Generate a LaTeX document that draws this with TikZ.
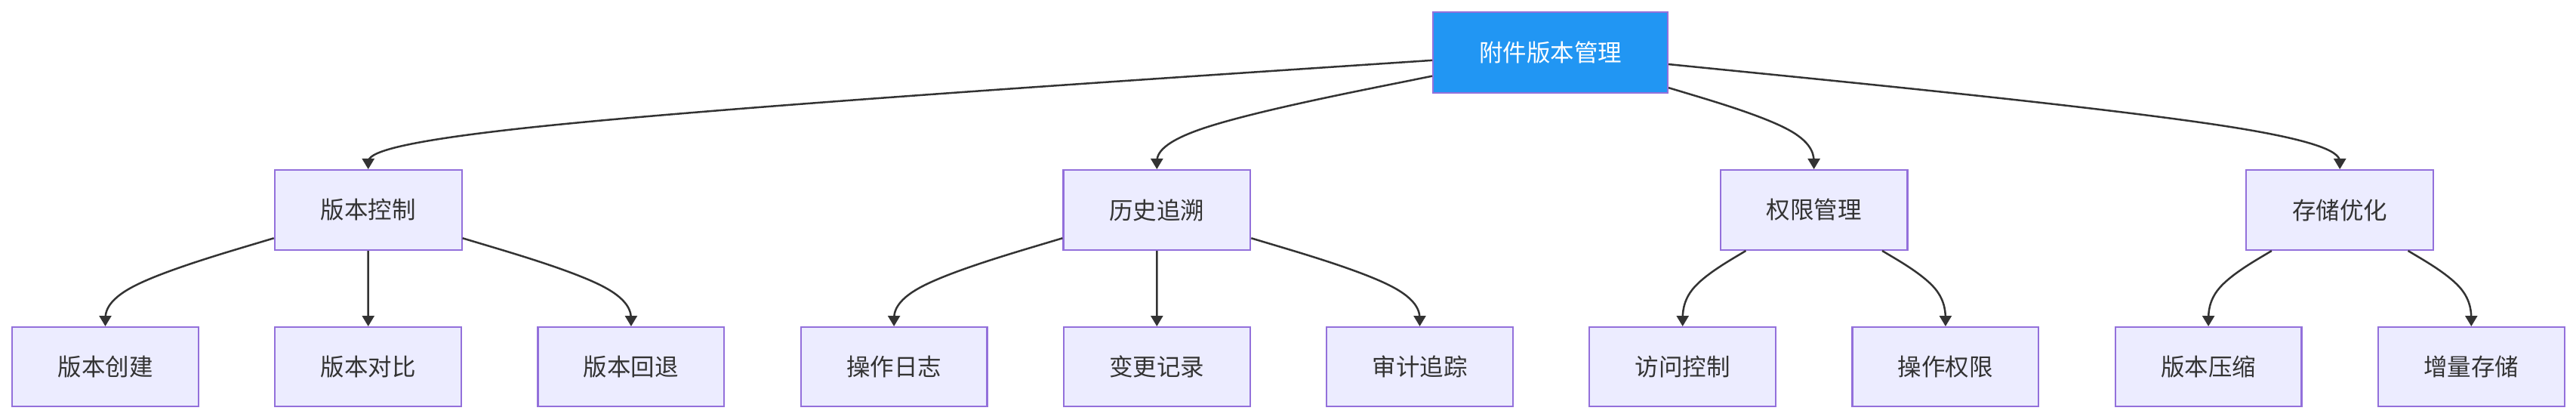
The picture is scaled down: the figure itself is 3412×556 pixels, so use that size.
\documentclass[tikz,border=0pt]{standalone}
\usepackage{fontspec}
\setmainfont{Noto Sans CJK SC}
\usetikzlibrary{arrows.meta,calc}
\definecolor{mmborder}{HTML}{9370DB}
\definecolor{mmfill}{HTML}{ECECFF}
\definecolor{mmroot}{HTML}{2196F3}
\definecolor{mmtext}{HTML}{333333}
\tikzset{
  box/.style={draw=mmborder, line width=2.2pt, fill=mmfill, text=mmtext, inner sep=0pt,
    font=\fontsize{31.5}{36}\selectfont},
  leafbox/.style={box, minimum width=246.8pt, minimum height=104.8pt},
  midbox/.style={box, minimum width=247.8pt, minimum height=105.8pt},
  rootbox/.style={box, fill=mmroot, text=white, minimum width=310.8pt, minimum height=106.8pt},
  link/.style={draw=mmtext, line width=2.5pt, -{Triangle[length=14pt,width=16pt]}}
}
\newcommand\mmlink[3]{%
  \coordinate (mM) at (#2.north |- 0,#3);
  \coordinate (mE) at (#2.north);
  \path (#1) -- coordinate[pos=0] (mS) (mM);
  \coordinate (mC2) at ($(mS)!2/3!(mM)$);
  \coordinate (mD1) at ($(mM)!1/3!(mE)$);
  \draw[link] (#1) -- ($(mS)!1/6!(mM)$) .. controls ($(mS)!1/3!(mM)$) and (mC2) .. ($(mC2)!0.5!(mD1)$) .. controls (mD1) and ($(mM)!2/3!(mE)$) .. ($(mM)!5/6!(mE)$) -- (#2);
}
\begin{document}
\begin{tikzpicture}[x=1pt,y=-1pt]
\fill[white] (0,0) rectangle (3412,556);
\useasboundingbox (0,0) rectangle (3412,556);
\node[rootbox] (root) at (2053.5,69.5) {附件版本管理};
\node[midbox] (m1) at (487.7,278) {版本控制};
\node[midbox] (m2) at (1532.3,278) {历史追溯};
\node[midbox] (m3) at (2402.6,278) {权限管理};
\node[midbox] (m4) at (3099.2,278) {存储优化};
\node[leafbox] (l1) at (139.5,485.5) {版本创建};
\node[leafbox] (l2) at (487.7,485.5) {版本对比};
\node[leafbox] (l3) at (835.9,485.5) {版本回退};
\node[leafbox] (l4) at (1184.1,485.5) {操作日志};
\node[leafbox] (l5) at (1532.3,485.5) {变更记录};
\node[leafbox] (l6) at (1880.5,485.5) {审计追踪};
\node[leafbox] (l7) at (2228.7,485.5) {访问控制};
\node[leafbox] (l8) at (2576.9,485.5) {操作权限};
\node[leafbox] (l9) at (2925.1,485.5) {版本压缩};
\node[leafbox] (l10) at (3273.3,485.5) {增量存储};
\mmlink{root}{m1}{174}
\mmlink{root}{m2}{174}
\mmlink{root}{m3}{174}
\mmlink{root}{m4}{174}
\mmlink{m1}{l1}{382}
\mmlink{m1}{l2}{382}
\mmlink{m1}{l3}{382}
\mmlink{m2}{l4}{382}
\mmlink{m2}{l5}{382}
\mmlink{m2}{l6}{382}
\mmlink{m3}{l7}{382}
\mmlink{m3}{l8}{382}
\mmlink{m4}{l9}{382}
\mmlink{m4}{l10}{382}
\end{tikzpicture}
\end{document}
